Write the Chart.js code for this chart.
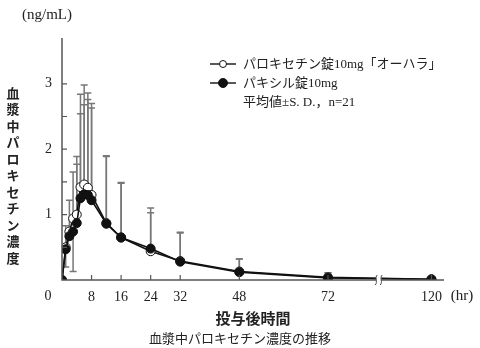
<!DOCTYPE html>
<html>
<head>
<meta charset="utf-8">
<script src="https://cdn.jsdelivr.net/npm/chart.js@4/dist/chart.umd.min.js"></script>
<style>
  html, body { margin: 0; padding: 0; background: #fff; }
  #wrap { width: 480px; height: 348px; position: relative; }
</style>
</head>
<body>
<div id="wrap"><canvas id="c" width="480" height="348"></canvas></div>
<script>
// Sampling times (hr)
const hours = [0, 1, 2, 3, 4, 5, 6, 7, 8, 12, 16, 24, 32, 48, 72, 120];

// パロキセチン錠10mg「オーハラ」 (mean, +S.D.) ng/mL
const testMean = [0, 0.50, 0.74, 0.94, 1.00, 1.42, 1.46, 1.41, 1.30, 0.87, 0.65, 0.44, 0.29, 0.13, 0.04, 0.01];
const testSD   = [0, 0.33, 0.48, 0.71, 0.89, 1.42, 1.52, 1.45, 1.40, 1.03, 0.84, 0.66, 0.44, 0.19, 0.07, 0];

// パキシル錠10mg (mean, S.D.) ng/mL; early whiskers point downward
const refMean    = [0, 0.47, 0.67, 0.74, 0.87, 1.25, 1.31, 1.30, 1.22, 0.86, 0.65, 0.48, 0.28, 0.12, 0.03, 0.01];
const refSD      = [0, 0,    0,    0,    0.90, 1.29, 1.37, 1.46, 1.41, 1.03, 0.83, 0.55, 0.44, 0.20, 0.08, 0];
const refSDLower = [0, 0.27, 0,    0.61, 0,    0,    0,    0,    0,    0,    0,    0,    0,    0,    0,    0];

const xTickHours = [8, 16, 24, 32, 48, 72, 120];
const yTickValues = [1, 2, 3];

const legendLabels = ['パロキセチン錠10mg「オーハラ」', 'パキシル錠10mg'];
const legendNote = '平均値±S. D.，n=21';
const yTitle = '血漿中パロキセチン濃度';
const yUnit = '(ng/mL)';
const xUnit = '(hr)';
const xTitle = '投与後時間';
const caption = '血漿中パロキセチン濃度の推移';

// The time axis is broken after 72 hr; later hours are drawn compressed.
const BREAK_AT = 72;
const BREAK_RATIO = 28 / 48;
const axisPos = h => (h <= BREAK_AT ? h : BREAK_AT + (h - BREAK_AT) * BREAK_RATIO);

const SERIF = "'Liberation Serif', 'Noto Sans CJK JP', serif";
const GOTHIC = "'Noto Sans CJK JP', sans-serif";
const AXIS_COLOR = '#555';
const BAR_COLOR = '#777';

const toPoints = means => hours.map((h, i) => ({ x: axisPos(h), y: means[i] }));

// S.D. whiskers, drawn beneath the markers
const errorBars = {
  id: 'errorBars',
  beforeDatasetsDraw(chart) {
    const { ctx, scales: { x, y } } = chart;
    const whiskers = [
      [testMean, testSD, 1],
      [refMean, refSD, 1],
      [refMean, refSDLower, -1]
    ];
    ctx.save();
    ctx.strokeStyle = BAR_COLOR;
    ctx.lineWidth = 1.5;
    whiskers.forEach(([m, sd, dir]) => {
      hours.forEach((h, i) => {
        if (!sd[i]) return;
        const px = x.getPixelForValue(axisPos(h));
        const y0 = y.getPixelForValue(m[i]);
        const y1 = y.getPixelForValue(m[i] + dir * sd[i]);
        ctx.beginPath();
        ctx.moveTo(px, y0); ctx.lineTo(px, y1);
        ctx.moveTo(px - 3.5, y1); ctx.lineTo(px + 3.5, y1);
        ctx.stroke();
      });
    });
    ctx.restore();
  }
};

// Axis lines, inward tick marks, axis break, titles and legend
const decorations = {
  id: 'decorations',
  afterDraw(chart) {
    const { ctx, chartArea: a, scales: { x, y } } = chart;
    ctx.save();
    ctx.strokeStyle = AXIS_COLOR;
    ctx.lineWidth = 1.5;
    ctx.beginPath();
    ctx.moveTo(a.left, a.top); ctx.lineTo(a.left, a.bottom);
    ctx.lineTo(a.right, a.bottom);
    ctx.stroke();

    ctx.lineWidth = 1.2;
    ctx.beginPath();
    y.ticks.forEach(t => {
      if (t.value > 0 && Math.abs(t.value * 2 - Math.round(t.value * 2)) < 1e-6) {
        const py = y.getPixelForValue(t.value);
        ctx.moveTo(a.left, py); ctx.lineTo(a.left + 5, py);
      }
    });
    x.ticks.forEach(t => {
      if (t.value > 0) {
        const px = x.getPixelForValue(t.value);
        ctx.moveTo(px, a.bottom); ctx.lineTo(px, a.bottom - 5);
      }
    });
    ctx.stroke();

    // axis break between 72 and 120 hr
    const bx = x.getPixelForValue(axisPos(96)) - 1;
    ctx.fillStyle = '#fff';
    ctx.fillRect(bx - 2.5, a.bottom - 5, 5, 10);
    ctx.strokeStyle = '#444';
    ctx.lineWidth = 1;
    [-2.5, 2.5].forEach(d => {
      ctx.beginPath();
      ctx.moveTo(bx + d - 1, a.bottom + 5);
      ctx.bezierCurveTo(bx + d + 2, a.bottom + 2, bx + d - 2, a.bottom - 2, bx + d + 1, a.bottom - 5);
      ctx.stroke();
    });

    // text
    ctx.fillStyle = '#222';
    ctx.textAlign = 'center';
    ctx.textBaseline = 'middle';
    ctx.font = `14px ${SERIF}`;
    ctx.fillText('0', 48, 296);
    ctx.font = `15px ${SERIF}`;
    ctx.fillText(xUnit, 462, 296);
    ctx.fillText(yUnit, 47, 15);

    ctx.font = `bold 15px ${GOTHIC}`;
    ctx.fillText(xTitle, 253, 318);
    ctx.font = `13px ${GOTHIC}`;
    ctx.fillText(caption, 240, 338);

    ctx.font = `bold 13px ${GOTHIC}`;
    [...yTitle].forEach((ch, i) => ctx.fillText(ch, 13, 93 + i * 16.5));

    // legend
    const rows = [
      { y: 64, fill: '#fff', r: 3.5 },
      { y: 83, fill: '#111', r: 4.5 }
    ];
    rows.forEach((row, i) => {
      ctx.strokeStyle = '#111';
      ctx.lineWidth = 1.4;
      ctx.beginPath();
      ctx.moveTo(210, row.y); ctx.lineTo(236, row.y);
      ctx.stroke();
      ctx.beginPath();
      ctx.arc(223, row.y, row.r, 0, Math.PI * 2);
      ctx.fillStyle = row.fill;
      ctx.fill();
      ctx.lineWidth = 1;
      ctx.stroke();
      ctx.fillStyle = '#222';
      ctx.textAlign = 'left';
      ctx.font = `13px ${SERIF}`;
      ctx.fillText(legendLabels[i], 243, row.y + 0.5);
    });
    ctx.fillText(legendNote, 243, 103);
    ctx.restore();
  }
};

const zeroPad = s => { s.paddingLeft = s.paddingRight = s.paddingTop = s.paddingBottom = 0; };

new Chart(document.getElementById('c'), {
  type: 'line',
  data: {
    datasets: [
      {
        label: legendLabels[1],
        data: toPoints(refMean),
        borderColor: '#111',
        borderWidth: 1.6,
        pointRadius: 4.5,
        pointBackgroundColor: '#111',
        pointBorderColor: '#111',
        pointBorderWidth: 1,
        tension: 0
      },
      {
        label: legendLabels[0],
        data: toPoints(testMean),
        borderColor: '#111',
        borderWidth: 1.6,
        pointRadius: 4.5,
        pointBackgroundColor: '#fff',
        pointBorderColor: '#111',
        pointBorderWidth: 1,
        tension: 0
      }
    ]
  },
  options: {
    responsive: false,
    animation: false,
    devicePixelRatio: 1,
    layout: { padding: { left: 0, right: 36, top: 38, bottom: 0 } },
    plugins: { legend: { display: false }, tooltip: { enabled: false } },
    scales: {
      x: {
        type: 'linear',
        min: 0,
        max: axisPos(120) + 3.4,
        afterBuildTicks: s => { s.ticks = xTickHours.map(h => ({ value: axisPos(h) })); },
        afterFit: s => { s.height = 68; zeroPad(s); },
        grid: { display: false, drawTicks: false },
        border: { display: false },
        ticks: {
          autoSkip: false,
          maxRotation: 0,
          padding: 9,
          color: '#222',
          font: { family: SERIF, size: 14 },
          callback: v => {
            const h = xTickHours.find(hh => Math.abs(axisPos(hh) - v) < 1e-6);
            return h === undefined ? '' : String(h);
          }
        }
      },
      y: {
        min: 0,
        max: 3.7,
        afterFit: s => { s.width = 62; zeroPad(s); },
        grid: { display: false, drawTicks: false },
        border: { display: false },
        ticks: {
          stepSize: 0.5,
          padding: 10,
          color: '#222',
          font: { family: SERIF, size: 14 },
          callback: v => (yTickValues.includes(v) ? String(v) : '')
        }
      }
    }
  },
  plugins: [errorBars, decorations]
});
</script>
</body>
</html>
